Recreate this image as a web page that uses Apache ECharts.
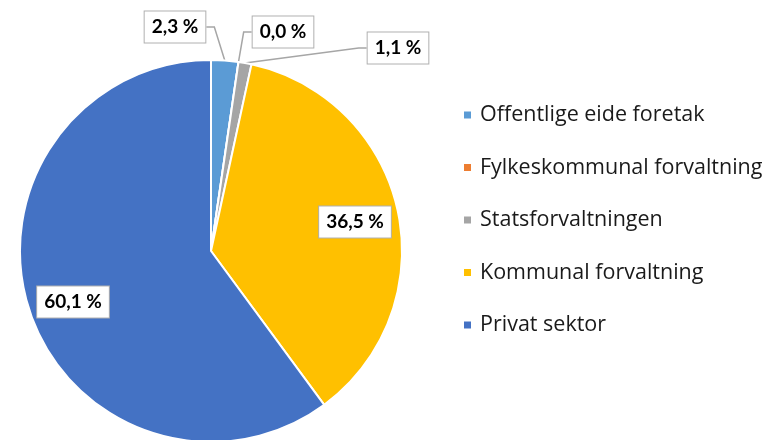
<!DOCTYPE html>
<html>
<head>
<meta charset="utf-8">
<script src="https://cdn.jsdelivr.net/npm/echarts@6/dist/echarts.min.js"></script>
<style>
  html, body { margin: 0; padding: 0; background: #fff; }
  #chart { width: 766px; height: 440px; }
</style>
</head>
<body>
<div id="chart"></div>
<script>
var categories = [
  'Offentlige eide foretak',
  'Fylkeskommunal forvaltning',
  'Statsforvaltningen',
  'Kommunal forvaltning',
  'Privat sektor'
]
var shares = [2.3, 0.0, 1.1, 36.5, 60.1]
var colors = ['#5B9BD5', '#ED7D31', '#A5A5A5', '#FFC000', '#4472C4']

// where the label boxes sit (centre points)
var labelPos = [
  [175, 27],
  [283, 32],
  [398, 48],
  [355, 222],
  [73, 302]
]
var insideLabels = [false, false, false, true, true]

var chart = echarts.init(document.getElementById('chart'))
chart.setOption({
  animation: false,
  color: colors,
  legend: {
    orient: 'vertical',
    left: 457,
    top: 99,
    icon: 'rect',
    itemWidth: 9,
    itemHeight: 9,
    itemGap: 30.5,
    textStyle: {
      fontFamily: 'Open Sans',
      fontSize: 21.5,
      lineHeight: 22,
      color: '#1a1a1a',
      padding: [0, 0, 0, 3]
    },
    data: categories
  },
  series: [
    {
      type: 'pie',
      center: [211, 251],
      radius: 191,
      startAngle: 90,
      clockwise: true,
      avoidLabelOverlap: false,
      itemStyle: {
        borderColor: '#fff',
        borderWidth: 2
      },
      label: {
        show: true,
        formatter: function (p) {
          return p.value.toFixed(1).replace('.', ',') + ' %'
        },
        fontFamily: 'Lato',
        fontWeight: 'bold',
        fontSize: 19,
        lineHeight: 19,
        color: '#000',
        backgroundColor: '#fff',
        borderColor: '#b0b0b0',
        borderWidth: 1,
        padding: [7, 7, 5, 7]
      },
      labelLine: {
        show: true,
        length: 10,
        length2: 8,
        lineStyle: { color: '#a6a6a6', width: 1.5 }
      },
      labelLayout: function (params) {
        var i = params.dataIndex
        return {
          x: labelPos[i][0],
          y: labelPos[i][1],
          align: 'center',
          verticalAlign: 'middle'
        }
      },
      data: categories.map(function (name, i) {
        var item = { name: name, value: shares[i] }
        if (insideLabels[i]) {
          item.label = { position: 'inside' }
          item.labelLine = { show: false }
        } else {
          item.label = { position: 'outside' }
        }
        return item
      })
    }
  ]
})
</script>
</body>
</html>
